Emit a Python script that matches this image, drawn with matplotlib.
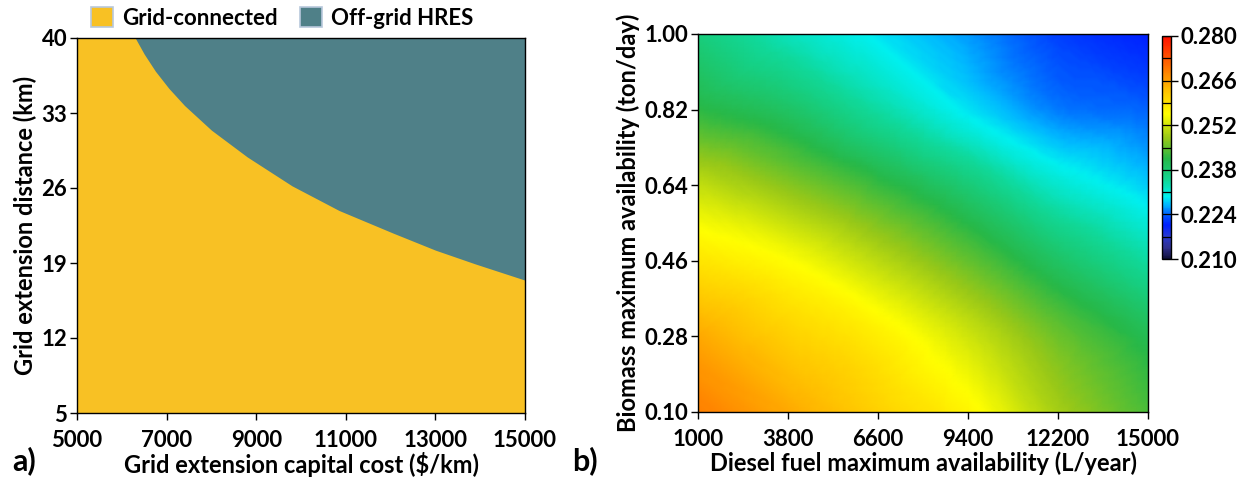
import numpy as np
import matplotlib
matplotlib.use("Agg")
import matplotlib.pyplot as plt
import matplotlib.tri as mtri
from matplotlib.patches import Patch
from matplotlib.colors import LinearSegmentedColormap

plt.rcParams['font.family'] = ['Lato', 'DejaVu Sans']
plt.rcParams['font.weight'] = 'bold'

# ---------------- Panel a) data ----------------
cost_ticks = [5000, 7000, 9000, 11000, 13000, 15000]
dist_ticks = [5, 12, 19, 26, 33, 40]
# boundary between grid-connected (below) and off-grid HRES (above)
boundary_cost = [6300, 6500, 6750, 7050, 7400, 8000, 8800, 9800, 10850, 12050, 13000, 13900, 15000]
boundary_dist = [40.0, 38.5, 36.9, 35.3, 33.7, 31.4, 28.9, 26.2, 23.9, 21.8, 20.2, 18.9, 17.4]
legend_labels = ["Grid-connected", "Off-grid HRES"]
color_grid = "#F8C124"
color_off = "#4F8088"

# ---------------- Panel b) data ----------------
diesel_ticks = [1000, 3800, 6600, 9400, 12200, 15000]
biomass_ticks = [0.10, 0.28, 0.46, 0.64, 0.82, 1.00]
# rows: biomass (bottom -> top); columns: diesel (left -> right)
coe_values = [
    [0.2690, 0.2650, 0.2610, 0.2565, 0.2490, 0.2435],
    [0.2650, 0.2610, 0.2575, 0.2520, 0.2455, 0.2405],
    [0.2585, 0.2555, 0.2505, 0.2450, 0.2390, 0.2340],
    [0.2510, 0.2470, 0.2425, 0.2375, 0.2315, 0.2280],
    [0.2418, 0.2390, 0.2340, 0.2290, 0.2250, 0.2240],
    [0.2370, 0.2325, 0.2290, 0.2260, 0.2225, 0.2205],
]
cbar_ticks = [0.210, 0.224, 0.238, 0.252, 0.266, 0.280]

cmap_nodes = [
    (0.210, "#10103a"), (0.2135, "#303090"), (0.217, "#2a3ad0"),
    (0.2205, "#0020ff"), (0.2225, "#0040ff"), (0.2245, "#0070ff"),
    (0.227, "#00b8ff"), (0.2295, "#00f0f0"), (0.2345, "#10d898"),
    (0.2415, "#28b848"), (0.248, "#98c818"), (0.2555, "#ffff00"),
    (0.263, "#ffc000"), (0.270, "#ff7400"), (0.280, "#ff1000"),
]
vmin, vmax = 0.210, 0.280
cmap = LinearSegmentedColormap.from_list(
    "origin", [((v - vmin) / (vmax - vmin), c) for v, c in cmap_nodes])

W, H = 1255, 483
fig = plt.figure(figsize=(W / 100, H / 100), dpi=100)

def px_axes(x0, y0, x1, y1):
    return fig.add_axes([x0 / W, 1 - y1 / H, (x1 - x0) / W, (y1 - y0) / H])

tick_fs = 16
label_fs = 17

# ---------------- Panel a ----------------
axa = px_axes(77, 38, 525, 413)
axa.set_facecolor(color_grid)
axa.fill_between(boundary_cost, boundary_dist, 40, color=color_off, lw=0)
axa.set_xlim(5000, 15000)
axa.set_ylim(5, 40)
axa.set_xticks(cost_ticks)
axa.set_yticks(dist_ticks)
axa.set_xticklabels([str(c) for c in cost_ticks])
axa.set_yticklabels([str(d) for d in dist_ticks])
axa.tick_params(labelsize=tick_fs, length=5, width=1)
axa.tick_params(axis='x', pad=7)
axa.tick_params(axis='y', pad=2)
axa.set_xlabel("Grid extension capital cost ($/km)", fontsize=label_fs, fontweight='bold', labelpad=1)
axa.set_ylabel("Grid extension distance (km)", fontsize=label_fs, fontweight='bold', labelpad=3)
for s in axa.spines.values():
    s.set_linewidth(1)

handles = [Patch(facecolor=color_grid, edgecolor="#b8c8dc", lw=1.2),
           Patch(facecolor=color_off, edgecolor="#b8c8dc", lw=1.2)]
fig.legend(handles, legend_labels, loc='center', bbox_to_anchor=(282 / W, 1 - 18 / H),
           ncol=2, frameon=False, handlelength=1.0, handleheight=1.0,
           handletextpad=0.4, columnspacing=1.0, prop={'weight': 'bold', 'size': 16})

fig.text(12 / W, 1 - 461 / H, "a)", fontsize=22, fontweight='bold', va='center', ha='left')

# ---------------- Panel b ----------------
axb = px_axes(698, 34, 1148, 412)
X, Y = np.meshgrid(diesel_ticks, biomass_ticks)
Z = np.array(coe_values)
xn = (X.ravel() - 1000) / 14000.0
yn = (Y.ravel() - 0.10) / 0.90
tri = mtri.Triangulation(xn, yn)
interp = mtri.CubicTriInterpolator(tri, Z.ravel(), kind='geom')
refiner = mtri.UniformTriRefiner(tri)
tri_f, z_f = refiner.refine_field(Z.ravel(), triinterpolator=interp, subdiv=4)
tri_plot = mtri.Triangulation(tri_f.x * 14000 + 1000, tri_f.y * 0.90 + 0.10, tri_f.triangles)
mesh = axb.tripcolor(tri_plot, z_f, shading='gouraud', cmap=cmap, vmin=vmin, vmax=vmax)
axb.set_xlim(1000, 15000)
axb.set_ylim(0.10, 1.00)
axb.set_xticks(diesel_ticks)
axb.set_yticks(biomass_ticks)
axb.set_xticklabels([str(d) for d in diesel_ticks])
axb.set_yticklabels([f"{b:.2f}" for b in biomass_ticks])
axb.tick_params(labelsize=tick_fs, length=5, width=1)
axb.tick_params(axis='x', pad=7)
axb.tick_params(axis='y', pad=2)
axb.set_xlabel("Diesel fuel maximum availability (L/year)", fontsize=label_fs, fontweight='bold', labelpad=1)
axb.set_ylabel("Biomass maximum availability (ton/day)", fontsize=label_fs, fontweight='bold', labelpad=3)
for s in axb.spines.values():
    s.set_linewidth(1)

fig.text(572 / W, 1 - 461 / H, "b)", fontsize=22, fontweight='bold', va='center', ha='left')

# ---------------- Colorbar ----------------
cax = px_axes(1162, 36, 1171, 259)
cb = fig.colorbar(mesh, cax=cax, ticks=cbar_ticks)
cb.ax.set_yticklabels([f"{t:.3f}" for t in cbar_ticks])
cb.ax.tick_params(labelsize=tick_fs, length=5, width=1, pad=2)
cb.outline.set_linewidth(1)
for v in np.arange(0, 11) * 0.007 + 0.210:
    cb.ax.axhline(v, color='black', lw=0.9)

fig.savefig("out.png", dpi=100)
